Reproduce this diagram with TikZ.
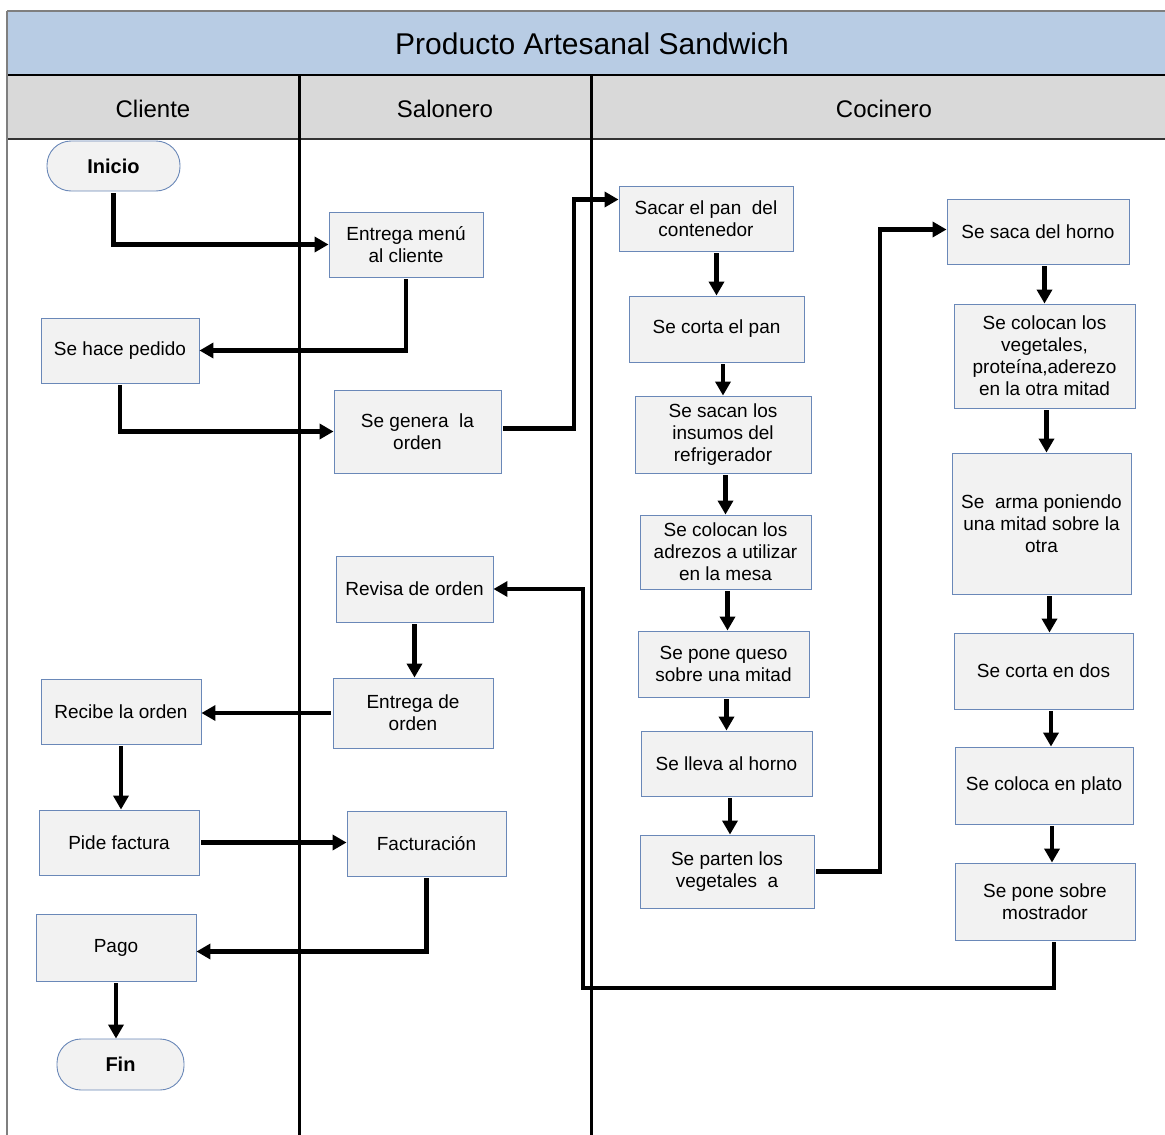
\documentclass[tikz,border=0pt]{standalone}
\usepackage{fontspec}
\setmainfont{Liberation Sans}
\usetikzlibrary{arrows.meta}
\definecolor{titlefill}{HTML}{B8CCE4}
\definecolor{headfill}{HTML}{D9D9D9}
\definecolor{boxfill}{HTML}{F2F2F2}
\definecolor{boxline}{HTML}{6A88B8}
\definecolor{frameline}{HTML}{7F7F7F}
\begin{document}
\begin{tikzpicture}[x=1pt,y=-1pt,
  stepbox/.style={draw=boxline, fill=boxfill, line width=0.9pt, align=center,
    inner sep=0pt, font=\fontsize{19}{22}\selectfont},
  term/.style={stepbox, rounded corners=24pt, font=\bfseries\fontsize{20}{23}\selectfont},
  arr/.style={line width=4.5pt, -{Triangle[length=14pt,width=15pt]}, shorten <=2pt},
  lane/.style={line width=3pt, black}]
\useasboundingbox (0,0) rectangle (1165,1135);

% pool header
\fill[titlefill] (7,11) rectangle (1165,75);
\fill[headfill] (7,75) rectangle (1165,139);
\draw[frameline, line width=1.5pt] (7,11) -- (1165,11);
\draw[black, line width=2pt] (7,75) -- (1165,75);
\draw[black!80, line width=2pt] (7,139) -- (1165,139);
\draw[frameline, line width=1.5pt] (7,11) -- (7,1135);
\node[font=\fontsize{30}{34}\selectfont] (title) at (592,44) {Producto Artesanal Sandwich};
\node[font=\fontsize{24}{28}\selectfont] (hcli) at (153,109) {Cliente};
\node[font=\fontsize{24}{28}\selectfont] (hsal) at (445,109) {Salonero};
\node[font=\fontsize{24}{28}\selectfont] (hcoc) at (884,109) {Cocinero};

% lane separators
\draw[lane] (299,75) -- (299,1135);
\draw[lane] (591,75) -- (591,1135);

% Cliente
\node[term, minimum width=133pt, minimum height=50pt] (inicio) at (113.5,166) {Inicio};
\node[stepbox, minimum width=158pt, minimum height=65pt] (pedido) at (120,350.5) {Se hace pedido};
\node[stepbox, minimum width=160pt, minimum height=65pt] (recibe) at (121,711.5) {Recibe la orden};
\node[stepbox, minimum width=160pt, minimum height=65pt] (pide) at (119,842.5) {Pide factura};
\node[stepbox, minimum width=160pt, minimum height=67pt] (pago) at (116,947.5) {Pago};
\node[term, minimum width=127pt, minimum height=51pt] (fin) at (120.5,1064.5) {Fin};

% Salonero
\node[stepbox, minimum width=154pt, minimum height=65pt] (menu) at (406,244.5) {Entrega menú\\al cliente};
\node[stepbox, minimum width=167pt, minimum height=83pt] (genera) at (417.5,431.5) {Se genera~ la\\orden};
\node[stepbox, minimum width=157pt, minimum height=66pt] (revisa) at (414.5,589) {Revisa de orden};
\node[stepbox, minimum width=160pt, minimum height=70pt] (entrega) at (413,713) {Entrega de\\orden};
\node[stepbox, minimum width=159pt, minimum height=65pt] (fact) at (426.5,843.5) {Facturación};

% Cocinero, first column
\node[stepbox, minimum width=174pt, minimum height=65pt] (sacar) at (706,218.5) {Sacar el pan~ del\\contenedor};
\node[stepbox, minimum width=175pt, minimum height=66pt] (corta) at (716.5,329) {Se corta el pan};
\node[stepbox, minimum width=176pt, minimum height=77pt] (sacan) at (723,434.5) {Se sacan los\\insumos del\\refrigerador};
\node[stepbox, minimum width=171pt, minimum height=74pt] (adrezos) at (725.5,552) {Se colocan los\\adrezos a utilizar\\en la mesa};
\node[stepbox, minimum width=171pt, minimum height=66pt] (queso) at (723.5,664) {Se pone queso\\sobre una mitad};
\node[stepbox, minimum width=171pt, minimum height=65pt] (horno) at (726.5,763.5) {Se lleva al horno};
\node[stepbox, minimum width=174pt, minimum height=73pt] (parten) at (727,871.5) {Se parten los\\vegetales~ a};

% Cocinero, second column
\node[stepbox, minimum width=182pt, minimum height=65pt] (saca) at (1038,231.5) {Se saca del horno};
\node[stepbox, minimum width=181pt, minimum height=104pt] (colocan) at (1044.5,356) {Se colocan los\\vegetales,\\proteína,aderezo\\en la otra mitad};
\node[stepbox, minimum width=179pt, minimum height=141pt] (arma) at (1041.5,523.5) {Se~ arma poniendo\\una mitad sobre la\\otra};
\node[stepbox, minimum width=179pt, minimum height=76pt] (cortados) at (1043.5,671) {Se corta en dos};
\node[stepbox, minimum width=178pt, minimum height=77pt] (plato) at (1044,785.5) {Se coloca en plato};
\node[stepbox, minimum width=180pt, minimum height=77pt] (mostrador) at (1045,901.5) {Se pone sobre\\mostrador};

% bends of the long connectors
\coordinate (j1) at (574,0);
\coordinate (j2) at (880,0);
\coordinate (j3) at (583,988);

% Cliente / Salonero flow
\draw[arr] (inicio.south) |- (menu.west);
\draw[arr] (menu.south) |- (pedido.east);
\draw[arr] (pedido.south) |- (genera.west);
\draw[arr] ([yshift=3pt]genera.east) -- ([yshift=3pt]genera.east -| j1) |- ([yshift=19pt]sacar.west);

% first kitchen column
\draw[arr] (sacar.south -| corta.north) -- (corta.north);
\draw[arr] (corta.south -| sacan.north) -- (sacan.north);
\draw[arr] (sacan.south -| adrezos.north) -- (adrezos.north);
\draw[arr] ([xshift=4pt]adrezos.south -| queso.north) -- ([xshift=4pt]queso.north);
\draw[arr] (queso.south -| horno.north) -- (horno.north);
\draw[arr] ([xshift=3pt]horno.south -| parten.north) -- ([xshift=3pt]parten.north);
\draw[arr] (parten.east) -- (parten.east -| j2) |- ([yshift=2pt]saca.west);

% second kitchen column
\draw[arr] (saca.south -| colocan.north) -- (colocan.north);
\draw[arr] ([xshift=5pt]colocan.south -| arma.north) -- ([xshift=5pt]arma.north);
\draw[arr] ([xshift=6pt]arma.south -| cortados.north) -- ([xshift=6pt]cortados.north);
\draw[arr] ([xshift=7pt]cortados.south -| plato.north) -- ([xshift=7pt]plato.north);
\draw[arr] ([xshift=7pt]plato.south -| mostrador.north) -- ([xshift=7pt]mostrador.north);

% back to the service lane
\draw[arr] ([xshift=9pt]mostrador.south) |- (j3) |- (revisa.east);
\draw[arr] (revisa.south) -- (revisa.south |- entrega.north);
\draw[arr] (entrega.west) -- (entrega.west -| recibe.east);
\draw[arr] (recibe.south) -- (recibe.south |- pide.north);
\draw[arr] (pide.east) -- (pide.east -| fact.west);
\draw[arr] (fact.south) |- ([yshift=-4pt]pago.east);
\draw[arr] (pago.south) -- (pago.south |- fin.north);
\end{tikzpicture}
\end{document}
